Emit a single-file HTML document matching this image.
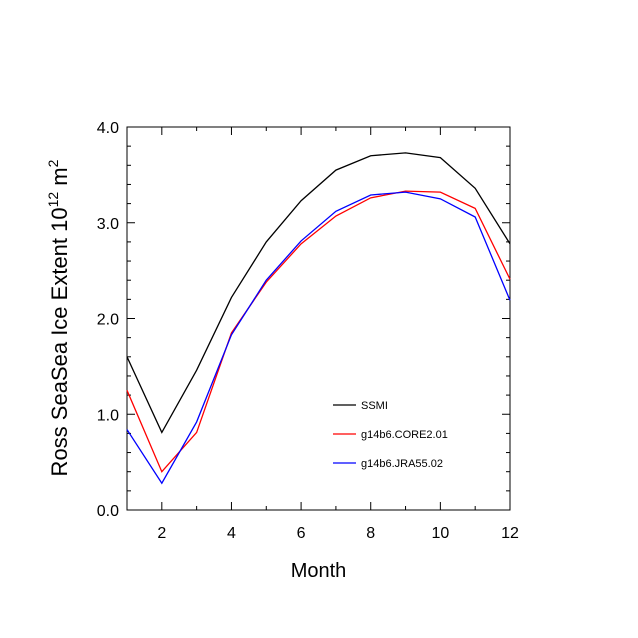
<!DOCTYPE html>
<html><head><meta charset="utf-8"><style>body{margin:0;background:#fff}svg{display:block}text{font-family:"Liberation Sans",Arial,sans-serif}</style></head>
<body>
<svg id="chart" width="638" height="638" xmlns="http://www.w3.org/2000/svg"></svg>
<script>
const months=[1,2,3,4,5,6,7,8,9,10,11,12];
const ssmi=[1.60,0.81,1.46,2.22,2.80,3.23,3.55,3.70,3.73,3.68,3.36,2.78];
const core=[1.25,0.40,0.81,1.85,2.38,2.78,3.07,3.26,3.33,3.32,3.15,2.41];
const jra=[0.84,0.28,0.92,1.83,2.40,2.81,3.12,3.29,3.32,3.25,3.06,2.19];
const xTicks=[2,4,6,8,10,12];
const yTicks=[0,1,2,3,4];
const yTickLabels=["0.0","1.0","2.0","3.0","4.0"];
const seriesNames=["SSMI","g14b6.CORE2.01","g14b6.JRA55.02"];
const colors=["#000","#f00","#00f"];

const L=127,R=510,T=127,B=510;
const sx=m=>L+(m-1)*(R-L)/11;
const sy=v=>B-v*(B-T)/4;
const svg=document.getElementById('chart');
const NS="http://www.w3.org/2000/svg";
function mk(tag,attrs,parent){const e=document.createElementNS(NS,tag);for(const k in attrs)e.setAttribute(k,attrs[k]);(parent||svg).appendChild(e);return e;}

const frame=mk('rect',{x:L,y:T,width:R-L,height:B-T,fill:'none',stroke:'#000','stroke-width':1});



for(let m=1;m<=12;m++){
  const x=sx(m), len=(m%2===0)?8:4;
  const t1=mk('line',{x1:x,y1:B,x2:x,y2:B-len,stroke:'#000'});
  
  
  const t2=mk('line',{x1:x,y1:T,x2:x,y2:T+len,stroke:'#000'});
  
  
}
xTicks.forEach(m=>{
  const t=mk('text',{x:sx(m),y:B+28,'text-anchor':'middle','font-size':16});
  t.textContent=m;
  
  
});
for(let i=0;i<=20;i++){
  const v=i*0.2,y=sy(v),len=(i%5===0)?8:4;
  const a=mk('line',{x1:L,y1:y,x2:L+len,y2:y,stroke:'#000'});
  
  
  const b=mk('line',{x1:R,y1:y,x2:R-len,y2:y,stroke:'#000'});
  
  
}
yTicks.forEach((v,i)=>{
  const t=mk('text',{x:L-8,y:sy(v)+6,'text-anchor':'end','font-size':16});
  t.textContent=yTickLabels[i];
  
  
});
const xt=mk('text',{x:(L+R)/2,y:577,'text-anchor':'middle','font-size':20});
xt.textContent='Month';


const yt=mk('text',{x:0,y:0,'text-anchor':'middle','font-size':22,transform:'translate(67,318) rotate(-90)'});
yt.innerHTML='Ross SeaSea Ice Extent 10<tspan dy="-9" font-size="14">12</tspan><tspan dy="9"> m</tspan><tspan dy="-9" font-size="14">2</tspan>';



[ssmi,core,jra].forEach((s,i)=>{
  const p=mk('polyline',{points:s.map((v,j)=>sx(months[j])+','+sy(v)).join(' '),fill:'none',stroke:colors[i],'stroke-width':1.3});
  
  
  const y=405+i*29;
  const l=mk('line',{x1:333,y1:y,x2:356,y2:y,stroke:colors[i],'stroke-width':1.3});
  
  
  const t=mk('text',{x:361,y:y+4,'font-size':11});
  t.textContent=seriesNames[i];
  
  
});
</script>
</body></html>
